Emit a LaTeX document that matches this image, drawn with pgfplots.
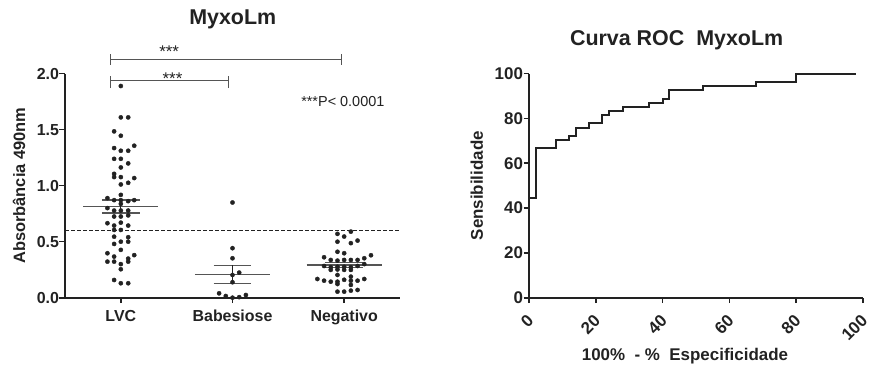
\documentclass[border=0pt]{standalone}
\usepackage{pgfplots}
\pgfplotsset{compat=1.18}
\usepackage{fontspec}
\setmainfont{Liberation Sans}
\definecolor{ink}{HTML}{222222}
\definecolor{meang}{HTML}{555555}
\begin{document}
\begin{tikzpicture}
\path[use as bounding box] (-65bp,-69.3bp) rectangle (804bp,297.7bp);
\pgfplotsset{
  every axis title shift=0pt,
  prism/.style={
    scale only axis,
    axis x line*=bottom, axis y line*=left,
    axis line style={ink, line width=2bp, -},
    tick align=outside,
    tick style={ink, line width=1.6bp},
    major tick length=5.5bp,
    /pgf/number format/assume math mode=true,
    tick label style={font=\fontsize{16}{19}\selectfont\bfseries, text=ink},
    yticklabel style={xshift=3bp},
    label style={font=\fontsize{16.5}{19}\selectfont\bfseries, text=ink},
    title style={font=\fontsize{21.5}{25}\selectfont\bfseries, text=ink},
    clip=false,
  }
}
\begin{axis}[prism, at={(0,0)}, anchor=south west, width=335bp, height=224bp,
  xmin=-0.5, xmax=2.5, ymin=0, ymax=2,
  xtick={0,1,2}, xticklabels={LVC,Babesiose,Negativo},
  xticklabel style={yshift=-3.5bp},
  ytick={0,0.5,1,1.5,2},
  yticklabel style={/pgf/number format/fixed, /pgf/number format/fixed zerofill, /pgf/number format/precision=1},
  title={MyxoLm}, title style={at={(axis description cs:0.5006,1.243)}, anchor=center},
  ylabel={Absorbância 490nm}, ylabel style={at={(axis description cs:-0.137,0.5)}, anchor=center},
]
% cut-off line
\addplot[ink, line width=1.8bp, dash pattern=on 3.5bp off 2.5bp] coordinates {(-0.5,0.6) (2.5,0.6)};
% LVC
\addplot[only marks, mark=*, mark size=2.1bp, ink] table {
x y
0 1.89
0 1.61
0.066 1.61
-0.06 1.485
0 1.446
-0.06 1.336
0 1.312
0.066 1.312
0.12 1.357
-0.06 1.24
0 1.24
0.066 1.199
0 1.163
-0.06 1.106
-0.06 1.077
0 1.077
0.12 1.068
0 1.011
0.066 1.026
0 0.918
-0.12 0.889
-0.06 0.871
0 0.871
0.066 0.862
0.12 0.871
0 0.838
-0.12 0.80
-0.06 0.778
0 0.778
0.066 0.778
-0.06 0.725
0 0.725
0.066 0.735
-0.12 0.665
-0.06 0.644
0 0.67
0.066 0.644
-0.06 0.605
0 0.605
-0.06 0.545
0.066 0.54
0 0.50
-0.06 0.48
0.066 0.50
0 0.427
-0.12 0.397
-0.06 0.367
0.066 0.349
0.12 0.38
-0.12 0.322
-0.06 0.322
0 0.30
0.066 0.322
0 0.254
-0.06 0.158
0 0.129
0.066 0.129
};
% Babesiose
\addplot[only marks, mark=*, mark size=2.1bp, ink] table {
x y
1 0.85
1 0.442
1 0.352
1.06 0.224
1 0.203
1 0.138
0.88 0.039
0.94 0.015
1 0.0
1.06 0.005
1.12 0.024
};
% Negativo
\addplot[only marks, mark=*, mark size=2.1bp, ink] table {
x y
1.94 0.57
2 0.546
2.06 0.59
1.94 0.50
2.06 0.487
2.12 0.51
1.94 0.41
2 0.397
1.82 0.361
1.88 0.337
1.94 0.331
2 0.337
2.06 0.337
2.12 0.337
2.18 0.352
2.24 0.379
1.82 0.283
1.88 0.272
1.94 0.276
2 0.276
2.06 0.272
2.12 0.283
2.18 0.30
1.88 0.248
1.94 0.252
2 0.248
2.06 0.248
1.94 0.203
2.06 0.188
1.76 0.167
1.82 0.152
1.88 0.143
1.94 0.143
2 0.160
2.06 0.152
2.12 0.152
2.18 0.167
1.94 0.122
2.06 0.114
1.94 0.054
2 0.054
2.06 0.063
2.12 0.069
};
% means and SEM
\addplot[meang, line width=1.3bp] coordinates {(-0.336,0.814) (0.336,0.814)};
\addplot[meang, line width=1.3bp] coordinates {(-0.17,0.871) (0.17,0.871)};
\addplot[meang, line width=1.3bp] coordinates {(-0.17,0.755) (0.17,0.755)};
\addplot[ink, line width=1.3bp] coordinates {(0,0.755) (0,0.871)};
\addplot[meang, line width=1.3bp] coordinates {(0.664,0.209) (1.336,0.209)};
\addplot[meang, line width=1.3bp] coordinates {(0.83,0.29) (1.17,0.29)};
\addplot[meang, line width=1.3bp] coordinates {(0.83,0.129) (1.17,0.129)};
\addplot[ink, line width=1.3bp] coordinates {(1,0.129) (1,0.29)};
\addplot[meang, line width=1.3bp] coordinates {(1.664,0.292) (2.336,0.292)};
\addplot[meang, line width=1.3bp] coordinates {(1.83,0.313) (2.17,0.313)};
\addplot[meang, line width=1.3bp] coordinates {(1.83,0.271) (2.17,0.271)};
% significance brackets
\draw[meang, line width=1.2bp] (axis cs:-0.096,2.13) -- (axis cs:1.973,2.13);
\draw[meang, line width=1.2bp] (axis cs:-0.096,2.08) -- (axis cs:-0.096,2.176);
\draw[meang, line width=1.2bp] (axis cs:1.973,2.08) -- (axis cs:1.973,2.176);
\draw[meang, line width=1.2bp] (axis cs:-0.096,1.937) -- (axis cs:0.962,1.937);
\draw[meang, line width=1.2bp] (axis cs:-0.096,1.872) -- (axis cs:-0.096,1.982);
\draw[meang, line width=1.2bp] (axis cs:0.962,1.872) -- (axis cs:0.962,1.982);
\node[font=\fontsize{17}{19}\selectfont, text=ink] at (axis cs:0.433,2.20) {***};
\node[font=\fontsize{17}{19}\selectfont, text=ink] at (axis cs:0.463,1.96) {***};
\node[font=\fontsize{14.5}{17}\selectfont, text=ink, anchor=east, inner sep=0pt] at (axis cs:2.362,1.753) {***P< 0.0001};
\end{axis}

\begin{axis}[prism, at={(464bp,0)}, anchor=south west, width=334bp, height=224bp,
  xmin=0, xmax=100, ymin=0, ymax=100,
  xtick={0,20,40,60,80,100}, ytick={0,20,40,60,80,100},
  tick label style={font=\fontsize{17}{20}\selectfont\bfseries, text=ink},
  label style={font=\fontsize{17}{20}\selectfont\bfseries, text=ink},
  xticklabel style={inner sep=0pt, xshift=1.5bp, yshift=-14.5bp, rotate=45, anchor=east},
  title={Curva ROC\ \ MyxoLm}, title style={at={(axis description cs:0.442,1.150)}, anchor=center},
  xlabel={100\%\ \ - \%\ \ Especificidade}, xlabel style={at={(axis description cs:0.467,-0.26)}, anchor=center},
  ylabel={Sensibilidade}, ylabel style={at={(axis description cs:-0.156,0.5)}, anchor=center},
]
\addplot[const plot, ink, line width=2bp] coordinates {
(0,0) (0,44.4) (2,66.7) (8,70.4) (12,72.2) (14,75.9) (18,77.8) (22,81.5) (24,83.3)
(28,85.2) (36,87.0) (40,88.9) (42,92.6) (52,94.4) (68,96.3) (80,100) (98,100)
};
\end{axis}
\end{tikzpicture}
\end{document}
